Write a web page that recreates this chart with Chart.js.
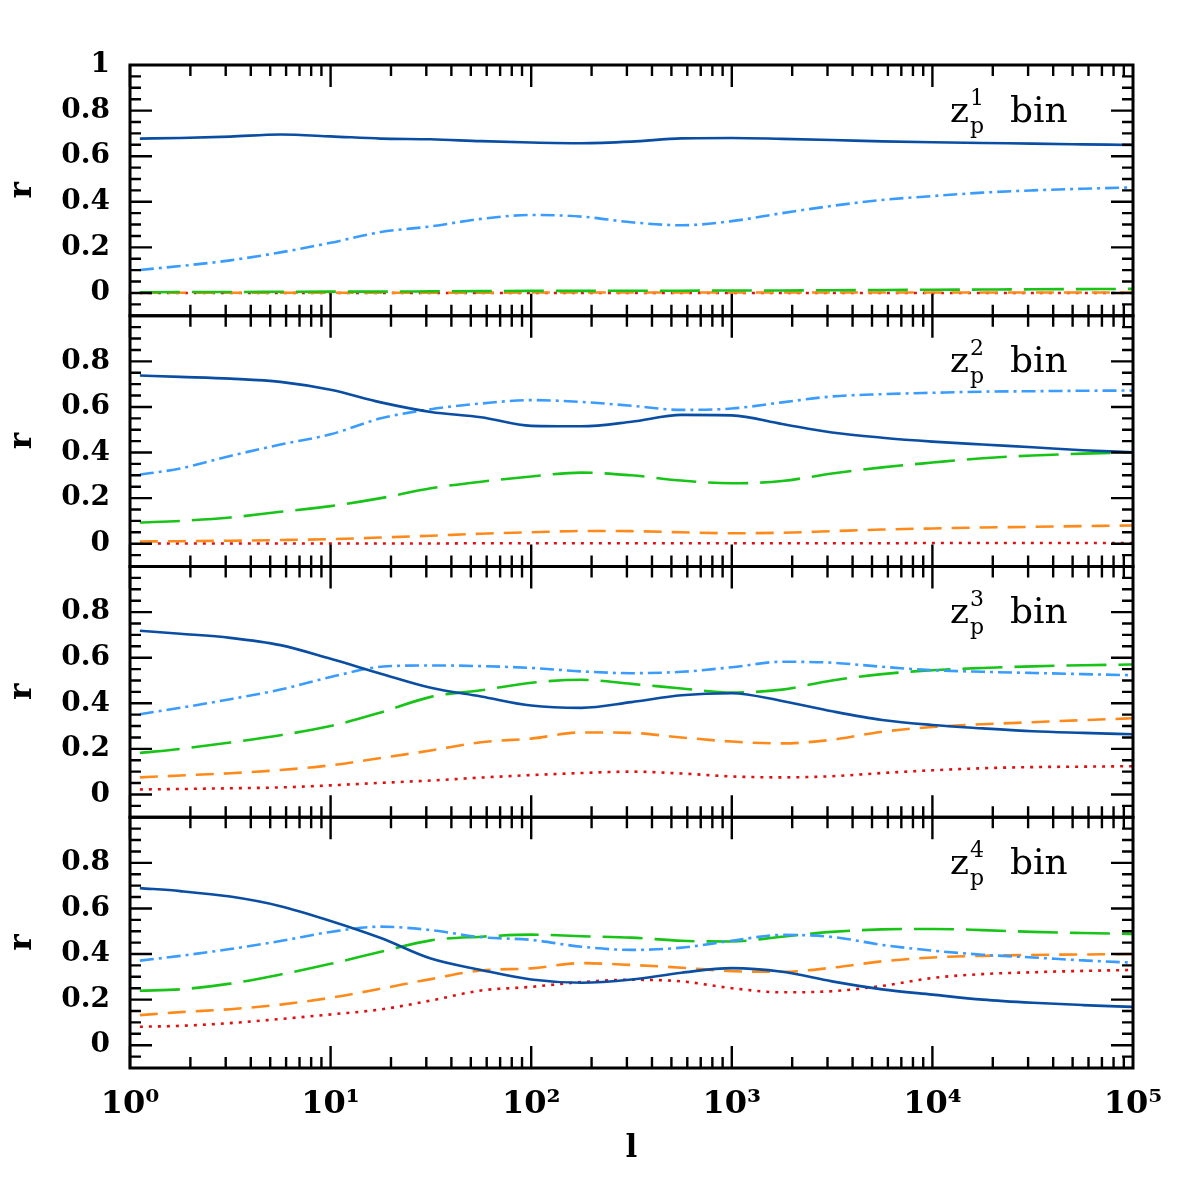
<html lang="en">
<head>
  <meta charset="UTF-8">
  <title>r vs l, four photo-z bins</title>
  <script src="https://cdn.jsdelivr.net/npm/chart.js"></script>
  <style>
    body, html {
      margin: 0;
      padding: 0;
      background-color: #ffffff;
    }
  </style>
</head>
<body>
  <canvas id="myChart" width="1196" height="1196"></canvas>

  <script>
    const ells = [1.12, 1.78, 3.16, 5.62, 10, 17.8, 31.6, 56.2, 100, 178, 316, 562, 1000, 1780, 3160, 5620, 10000, 17800, 31600, 56200, 100000];

    const decades = [1, 10, 100, 1000, 10000, 100000];
    const xTickLabels = ['10⁰', '10¹', '10²', '10³', '10⁴', '10⁵'];
    const yTicks = [0, 0.2, 0.4, 0.6, 0.8, 1];
    const binNames = ['1', '2', '3', '4'];

    // z_p^1 bin
    const solid1 = [0.677,0.68,0.686,0.695,0.687,0.677,0.674,0.666,0.66,0.657,0.664,0.678,0.68,0.676,0.671,0.665,0.661,0.658,0.655,0.652,0.649];
    const dotDash1 = [0.101,0.118,0.143,0.178,0.22,0.267,0.292,0.325,0.342,0.335,0.31,0.297,0.315,0.35,0.382,0.408,0.425,0.44,0.45,0.457,0.463];
    const longDash1 = [0.003,0.004,0.004,0.005,0.006,0.006,0.007,0.008,0.009,0.009,0.01,0.01,0.011,0.011,0.012,0.013,0.014,0.015,0.016,0.017,0.018];
    const shortDash1 = [0.001,0.001,0.001,0.001,0.001,0.001,0.001,0.001,0.002,0.002,0.002,0.002,0.002,0.002,0.002,0.002,0.002,0.002,0.002,0.002,0.002];
    const dotted1 = [0,0,0,0,0,0,0,0,0,0,0,0,0,0,0,0,0,0,0,0,0];

    // z_p^2 bin
    const solid2 = [0.738,0.732,0.724,0.71,0.675,0.62,0.578,0.555,0.517,0.515,0.535,0.565,0.563,0.525,0.488,0.465,0.448,0.435,0.423,0.41,0.401];
    const dotDash2 = [0.303,0.33,0.385,0.435,0.48,0.55,0.59,0.615,0.63,0.622,0.605,0.587,0.593,0.62,0.646,0.656,0.662,0.667,0.669,0.671,0.672];
    const longDash2 = [0.093,0.1,0.115,0.14,0.165,0.2,0.243,0.272,0.295,0.312,0.3,0.277,0.265,0.275,0.308,0.335,0.356,0.375,0.387,0.395,0.401];
    const shortDash2 = [0.01,0.011,0.013,0.016,0.02,0.027,0.035,0.044,0.05,0.056,0.055,0.05,0.046,0.048,0.055,0.062,0.067,0.071,0.074,0.077,0.08];
    const dotted2 = [0.001,0.001,0.001,0.001,0.001,0.001,0.001,0.002,0.002,0.002,0.002,0.002,0.002,0.002,0.002,0.002,0.003,0.003,0.003,0.003,0.003];

    // z_p^3 bin
    const solid3 = [0.718,0.705,0.687,0.655,0.595,0.53,0.468,0.43,0.39,0.38,0.405,0.435,0.444,0.41,0.365,0.327,0.305,0.29,0.277,0.27,0.264];
    const dotDash3 = [0.352,0.38,0.418,0.46,0.515,0.56,0.566,0.563,0.555,0.54,0.532,0.538,0.558,0.582,0.578,0.56,0.545,0.538,0.533,0.528,0.523];
    const longDash3 = [0.182,0.2,0.228,0.26,0.3,0.36,0.428,0.457,0.49,0.503,0.485,0.465,0.447,0.46,0.5,0.528,0.545,0.555,0.562,0.567,0.57];
    const shortDash3 = [0.075,0.083,0.093,0.107,0.128,0.16,0.193,0.229,0.245,0.272,0.27,0.25,0.232,0.224,0.24,0.275,0.296,0.308,0.317,0.326,0.334];
    const dotted3 = [0.022,0.024,0.027,0.031,0.04,0.051,0.061,0.074,0.085,0.094,0.1,0.092,0.079,0.075,0.08,0.094,0.106,0.115,0.12,0.122,0.124];

    // z_p^4 bin
    const solid4 = [0.689,0.676,0.652,0.61,0.545,0.47,0.38,0.33,0.288,0.274,0.288,0.318,0.338,0.322,0.28,0.245,0.222,0.2,0.186,0.176,0.168];
    const dotDash4 = [0.371,0.392,0.422,0.457,0.497,0.52,0.505,0.474,0.462,0.432,0.418,0.428,0.458,0.484,0.475,0.44,0.415,0.397,0.385,0.372,0.362];
    const longDash4 = [0.239,0.245,0.27,0.31,0.357,0.41,0.46,0.476,0.485,0.478,0.472,0.458,0.455,0.476,0.497,0.508,0.51,0.505,0.497,0.492,0.488];
    const shortDash4 = [0.132,0.145,0.158,0.178,0.208,0.248,0.29,0.328,0.337,0.36,0.352,0.34,0.325,0.322,0.34,0.368,0.385,0.392,0.396,0.398,0.4];
    const dotted4 = [0.081,0.085,0.097,0.115,0.135,0.157,0.196,0.24,0.256,0.277,0.287,0.28,0.25,0.232,0.237,0.26,0.295,0.312,0.32,0.326,0.33];

    const panels = [
      [solid1, dotDash1, longDash1, shortDash1, dotted1],
      [solid2, dotDash2, longDash2, shortDash2, dotted2],
      [solid3, dotDash3, longDash3, shortDash3, dotted3],
      [solid4, dotDash4, longDash4, shortDash4, dotted4]
    ];

    // one style per line kind, same order as in panels
    const lineStyles = [
      { color: '#0a4ea3', dash: [] },
      { color: '#3a9cff', dash: [14, 5, 3, 5] },
      { color: '#18c418', dash: [40, 12] },
      { color: '#ff8a1c', dash: [18, 10] },
      { color: '#dd1111', dash: [3, 6] }
    ];

    const serif = 'DejaVu Serif';

    const datasets = [];
    panels.forEach((series, p) => {
      series.forEach((vals, k) => {
        datasets.push({
          label: 'bin ' + binNames[p] + ' line ' + k,
          data: ells.map((l, i) => ({ x: l, y: vals[i] })),
          yAxisID: 'p' + (p + 1),
          borderColor: lineStyles[k].color,
          borderDash: lineStyles[k].dash,
          borderWidth: 2.6,
          pointRadius: 0,
          fill: false,
          cubicInterpolationMode: 'monotone'
        });
      });
    });

    function panelScale(showOne) {
      return {
        type: 'linear',
        position: 'left',
        stack: 'panels',
        stackWeight: 1,
        min: -0.1,
        max: 1.0,
        grid: { display: false, drawTicks: false },
        border: { display: false },
        afterBuildTicks: function(s) { s.ticks = yTicks.map(v => ({ value: v })); },
        afterFit: function(s) { s.width = 130; },
        ticks: {
          color: '#000',
          padding: 20,
          autoSkip: false,
          font: { family: serif, size: 28, weight: 'bold' },
          callback: function(v) { return (v === 1 && !showOne) ? '' : String(v); }
        },
        title: {
          display: true,
          text: 'r',
          color: '#000',
          font: { family: serif, size: 31, weight: 'bold' },
          padding: { top: 4, bottom: 0 }
        }
      };
    }

    // frames, inward ticks and bin labels
    const framePlugin = {
      id: 'frames',
      afterDatasetsDraw(chart) {
        const ctx = chart.ctx;
        const xs = chart.scales.x;
        const left = chart.chartArea.left, right = chart.chartArea.right;
        ctx.save();
        ctx.strokeStyle = '#000';
        for (let p = 1; p <= 4; p++) {
          const ys = chart.scales['p' + p];
          const top = ys.top, bottom = ys.bottom;
          ctx.lineWidth = 2.4;
          ctx.beginPath();
          for (let i = -1; i <= 19; i++) {
            const y = ys.getPixelForValue(i / 20);
            const len = (i % 4 === 0) ? 22 : 11;
            ctx.moveTo(left, y); ctx.lineTo(left + len, y);
            ctx.moveTo(right, y); ctx.lineTo(right - len, y);
          }
          for (let e = 0; e < 5; e++) {
            for (let m = 1; m <= 9; m++) {
              const x = xs.getPixelForValue(m * Math.pow(10, e));
              const len = (m === 1) ? 22 : 11;
              ctx.moveTo(x, top); ctx.lineTo(x, top + len);
              ctx.moveTo(x, bottom); ctx.lineTo(x, bottom - len);
            }
          }
          ctx.stroke();
          ctx.lineWidth = 3;
          ctx.strokeRect(left, top, right - left, bottom - top);

          // bin label: z_p^n bin
          const base = ys.getPixelForValue(0.752);
          ctx.fillStyle = '#000';
          ctx.textBaseline = 'alphabetic';
          ctx.textAlign = 'left';
          ctx.font = '36px "' + serif + '"';
          ctx.fillText('z', right - 183, base);
          ctx.fillText('bin', right - 123, base);
          ctx.font = '22px "' + serif + '"';
          ctx.fillText(binNames[p - 1], right - 163, base - 17);
          ctx.fillText('p', right - 163, base + 11);
        }
        ctx.restore();
      }
    };

    const ctx = document.getElementById('myChart').getContext('2d');
    const myChart = new Chart(ctx, {
      type: 'line',
      data: { datasets: datasets },
      options: {
        responsive: false,
        animation: false,
        layout: { padding: { top: 65, right: 63, bottom: 0, left: 0 } },
        plugins: {
          legend: { display: false },
          tooltip: { enabled: false }
        },
        scales: {
          x: {
            type: 'logarithmic',
            position: 'bottom',
            min: 1,
            max: 100000,
            grid: { display: false, drawTicks: false },
            border: { display: false },
            afterBuildTicks: function(s) { s.ticks = decades.map(v => ({ value: v })); },
            afterFit: function(s) { s.height = 128; },
            ticks: {
              color: '#000',
              padding: 17,
              maxRotation: 0,
              autoSkip: false,
              font: { family: serif, size: 32, weight: 'bold' },
              callback: function(v) { return xTickLabels[decades.indexOf(v)]; }
            },
            title: {
              display: true,
              text: 'l',
              color: '#000',
              font: { family: serif, size: 31, weight: 'bold' },
              padding: { top: 0, bottom: 28 }
            }
          },
          p4: panelScale(false),
          p3: panelScale(false),
          p2: panelScale(false),
          p1: panelScale(true)
        }
      },
      plugins: [framePlugin]
    });
  </script>
</body>
</html>
